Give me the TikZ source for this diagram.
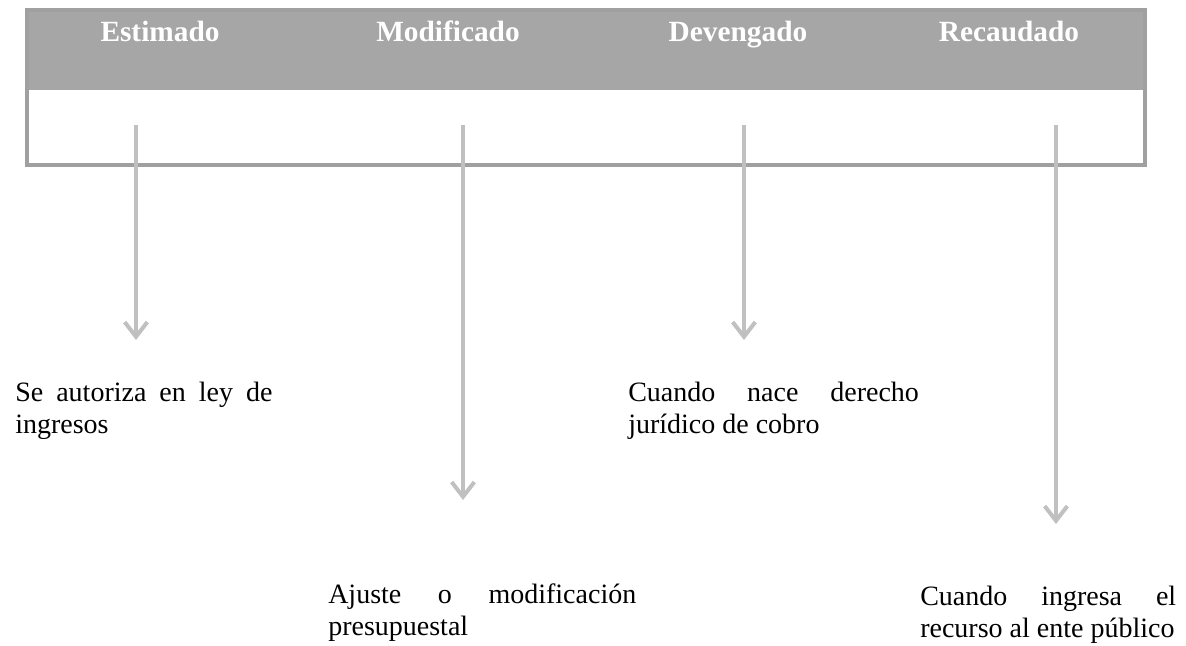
\documentclass[tikz,border=0pt]{standalone}
\usepackage{fontspec}
\setmainfont{Liberation Serif}
\usepackage{tikz}
\usetikzlibrary{arrows.meta}
\definecolor{cabecera}{HTML}{A6A6A6}
\definecolor{marco}{HTML}{A0A0A0}
\definecolor{flechagris}{HTML}{C0C0C0}

\begin{document}
\begin{tikzpicture}[x=0.75pt,y=-0.75pt]
\tikzset{encabezado/.style = {anchor=base,text=white,font=\fontsize{22}{26}\selectfont\bfseries,inner sep=0pt}}
\tikzset{nota/.style = {anchor=north west,inner sep=0pt,align=justify,font=\fontsize{21}{24}\selectfont}}
\tikzset{flecha/.style = {draw=flechagris,line width=3pt,-{Straight Barb[length=11pt,width=17pt,line width=3pt]}}}
\useasboundingbox (0,0) rectangle (1186,646);
% tabla
\fill[cabecera] (27,10) rectangle (1145,90);
\draw[marco,line width=2.5pt] (27,10) rectangle (1145,165);
% encabezados
\node[encabezado] (estimado)   at (160,41)  {Estimado};
\node[encabezado] (modificado) at (448,41)  {Modificado};
\node[encabezado] (devengado)  at (738,41)  {Devengado};
\node[encabezado] (recaudado)  at (1009,41) {Recaudado};
% textos
\node[nota,text width=193pt] (t1) at (15,382)  {Se autoriza en ley de\linebreak ingresos};
\node[nota,text width=231pt] (t2) at (328,584) {Ajuste o modificación\linebreak presupuestal};
\node[nota,text width=218pt] (t3) at (628,382) {Cuando nace derecho\linebreak jurídico de cobro};
\node[nota,text width=192pt] (t4) at (920,586) {Cuando ingresa el\linebreak recurso al ente público};
% flechas
\coordinate (e1) at (136,125);  \coordinate (f1) at (136,340);
\coordinate (e2) at (463,125);  \coordinate (f2) at (463,500);
\coordinate (e3) at (744,125);  \coordinate (f3) at (744,340);
\coordinate (e4) at (1056,125); \coordinate (f4) at (1056,524);
\draw[flecha] (e1) -- (f1);
\draw[flecha] (e2) -- (f2);
\draw[flecha] (e3) -- (f3);
\draw[flecha] (e4) -- (f4);
\end{tikzpicture}
\end{document}
